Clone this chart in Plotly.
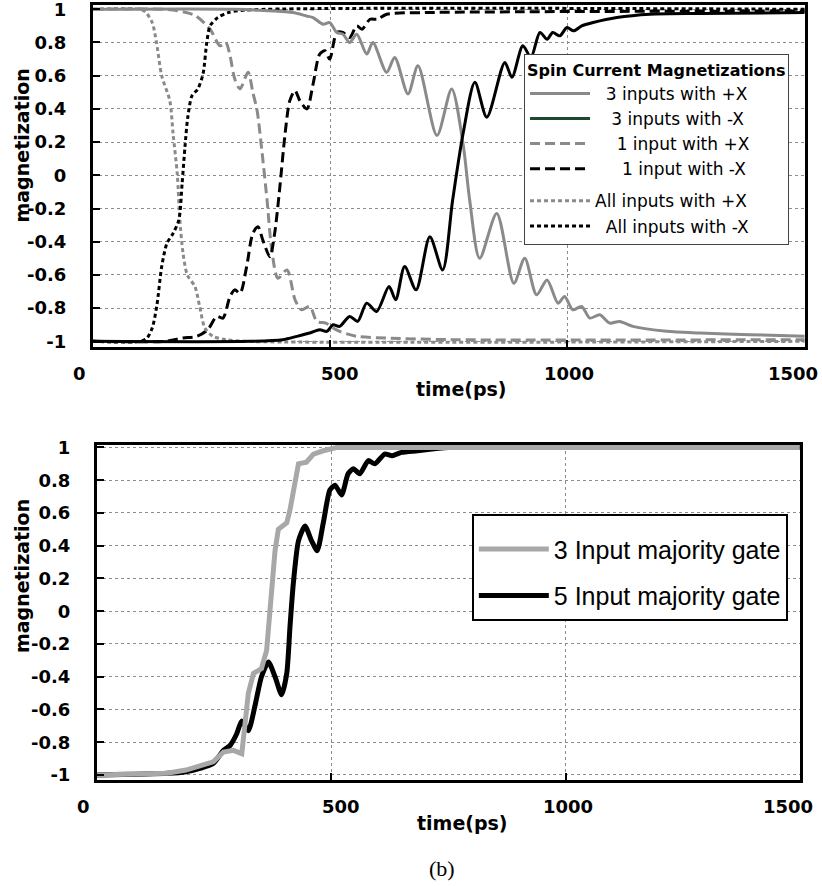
import plotly.graph_objects as go

# ---- top panel: spin current magnetizations ----
t_all_px = [0, 100, 112, 125, 134, 145, 162, 169, 178, 183, 190, 199, 215, 225, 236, 253, 280, 320, 1500]
m_all_px = [1, 1, 0.98, 0.92, 0.8, 0.6, 0.45, 0.25, 0.0, -0.26, -0.47, -0.6, -0.67, -0.79, -0.92, -0.97, -0.99, -1.0, -1.0]

t_all_mx = [0, 100, 114, 125, 135, 145, 156, 169, 181, 188, 194, 200, 209, 221, 232, 240, 247, 263, 285, 320, 1500]
m_all_mx = [-1, -1, -0.98, -0.92, -0.78, -0.55, -0.41, -0.35, -0.27, -0.05, 0.17, 0.35, 0.48, 0.52, 0.61, 0.8, 0.9, 0.95, 0.98, 0.995, 1.0]

t_one_px = [0, 150, 190, 217, 247, 268, 280, 289, 299, 310, 327, 337, 346, 356, 367, 377, 390, 409, 426,
            440, 457, 472, 491, 506, 520, 556, 620, 750, 1500]
m_one_px = [1, 1, 0.985, 0.96, 0.88, 0.78, 0.8, 0.72, 0.58, 0.52, 0.62, 0.5, 0.39, 0.15, -0.15, -0.45, -0.62, -0.57, -0.75,
            -0.81, -0.79, -0.88, -0.89, -0.92, -0.94, -0.97, -0.98, -0.99, -0.99]

t_one_mx = [0, 150, 190, 219, 242, 261, 274, 289, 299, 310, 324, 337, 348, 358, 373, 383, 394, 405, 415, 426, 436,
            451, 464, 478, 489, 499, 514, 527, 541, 556, 567, 584, 600, 619, 700, 900, 1500]
m_one_mx = [-1, -1, -0.98, -0.97, -0.93, -0.85, -0.86, -0.73, -0.69, -0.71, -0.55, -0.35, -0.31, -0.39, -0.49, -0.35,
            -0.07, 0.25, 0.45, 0.51, 0.45, 0.4, 0.55, 0.73, 0.75, 0.7, 0.86, 0.86, 0.83, 0.9, 0.88, 0.94, 0.94, 0.97,
            0.98, 0.985, 0.99]

t_three_px = [0, 300, 380, 421, 450, 464, 485, 499, 514, 527, 541, 556, 577, 590, 619, 636, 664, 685, 725, 756, 780,
              794, 815, 851, 887, 910, 935, 957, 980, 994, 1011, 1030, 1047, 1068, 1089, 1110, 1138, 1209, 1279, 1384, 1500]
m_three_px = [1, 1, 0.99, 0.98, 0.96, 0.95, 0.91, 0.92, 0.86, 0.85, 0.8, 0.85, 0.73, 0.8, 0.62, 0.71, 0.49, 0.66, 0.24,
              0.52, 0.19, -0.15, -0.5, -0.23, -0.65, -0.5, -0.72, -0.63, -0.77, -0.73, -0.81, -0.79, -0.86, -0.84,
              -0.89, -0.88, -0.91, -0.94, -0.95, -0.96, -0.97]

t_three_mx = [0, 330, 400, 430, 457, 478, 493, 506, 520, 541, 558, 577, 598, 624, 638, 657, 681, 710, 737, 758, 780,
              805, 830, 868, 883, 906, 923, 942, 957, 969, 984, 999, 1013, 1030, 1054, 1104, 1174, 1279, 1500]
m_three_mx = [-1, -1, -0.99, -0.97, -0.95, -0.93, -0.94, -0.9, -0.91, -0.85, -0.88, -0.77, -0.82, -0.67, -0.75, -0.55,
              -0.69, -0.37, -0.57, -0.15, 0.25, 0.56, 0.35, 0.68, 0.59, 0.78, 0.71, 0.86, 0.82, 0.86, 0.84, 0.89,
              0.87, 0.9, 0.92, 0.95, 0.97, 0.975, 0.98]

# ---- bottom panel: majority gates ----
t_gate3 = [0, 100, 149, 190, 213, 248, 270, 291, 309, 316, 323, 334, 351, 362, 368, 373, 380, 387, 405, 412, 423,
           430, 447, 462, 483, 511, 600, 1500]
m_gate3 = [-1, -0.995, -0.99, -0.97, -0.95, -0.92, -0.86, -0.85, -0.87, -0.68, -0.5, -0.38, -0.35, -0.24, -0.01,
           0.19, 0.37, 0.5, 0.54, 0.62, 0.82, 0.9, 0.91, 0.96, 0.98, 1.0, 1.0, 1.0]

t_gate5 = [0, 150, 190, 220, 248, 270, 284, 298, 309, 323, 337, 351, 366, 380, 394, 405, 412, 419, 430, 444, 458,
           470, 483, 497, 508, 522, 536, 547, 561, 579, 593, 614, 630, 650, 684, 750, 1500]
m_gate5 = [-1, -0.99, -0.98, -0.96, -0.93, -0.85, -0.82, -0.75, -0.67, -0.73, -0.58, -0.4, -0.31, -0.4, -0.51, -0.38,
           -0.09, 0.17, 0.43, 0.52, 0.43, 0.37, 0.54, 0.74, 0.77, 0.71, 0.84, 0.87, 0.84, 0.92, 0.9, 0.96, 0.95,
           0.97, 0.98, 1.0, 1.0]

x_ticks = [0, 500, 1000, 1500]
x_labels = ["0", "500", "1000", "1500"]
y_ticks = [1, 0.8, 0.6, 0.4, 0.2, 0, -0.2, -0.4, -0.6, -0.8, -1]
y_labels = ["1", "0.8", "0.6", "0.4", "0.2", "0", "-0.2", "-0.4", "-0.6", "-0.8", "-1"]

NB = "\u00a0"
GRAY = "#8a8a8a"
LIGHT = "#a8a8a8"

fig = go.Figure()


def top_line(x, y, name, color, dash, rank, group, show=True):
    fig.add_trace(go.Scatter(
        x=x, y=y, name=name, mode="lines", xaxis="x", yaxis="y",
        line=dict(color=color, width=3, dash=dash, shape="spline", smoothing=0.8),
        legend="legend", legendrank=rank, legendgroup=group, showlegend=show,
    ))


top_line(t_one_px, m_one_px, NB * 4 + "1 input with +X", GRAY, "10px,5px", 3, "a")
top_line(t_one_mx, m_one_mx, NB * 5 + "1 input with -X", "black", "10px,5px", 4, "a")
top_line(t_all_px, m_all_px, "All inputs with +X", GRAY, "4px,3px", 5, "b")
top_line(t_all_mx, m_all_mx, NB * 2 + "All inputs with -X", "black", "4px,3px", 6, "b")
top_line(t_three_px, m_three_px, NB * 2 + "3 inputs with +X", GRAY, "solid", 1, "a")
top_line(t_three_mx, m_three_mx, "3 inputs with -X", "black", "solid", 2, "a", show=False)
# legend swatch for the -X three-input curve is dark green in the original
fig.add_trace(go.Scatter(
    x=[None], y=[None], mode="lines", name=NB * 3 + "3 inputs with -X", xaxis="x", yaxis="y",
    line=dict(color="#1d4a2e", width=3), legend="legend", legendrank=2, legendgroup="a",
))

fig.add_trace(go.Scatter(
    x=t_gate5, y=m_gate5, name="5 Input majority gate", mode="lines", xaxis="x2", yaxis="y2",
    line=dict(color="black", width=5, shape="spline", smoothing=0.6),
    legend="legend2", legendrank=2, legendgroup="g5",
))
fig.add_trace(go.Scatter(
    x=t_gate3, y=m_gate3, name="3 Input majority gate", mode="lines", xaxis="x2", yaxis="y2",
    line=dict(color=LIGHT, width=5),
    legend="legend2", legendrank=1, legendgroup="g3",
))

BOLD = "DejaVu Sans"
tick_font = dict(family=BOLD, size=18, color="black", weight="bold")
axis_common = dict(
    showline=True, linecolor="black", linewidth=3, mirror=True,
    ticks="inside", ticklen=7, tickwidth=2, tickcolor="black",
    showgrid=True, gridcolor="#8c8c8c", gridwidth=1, griddash="dot",
    zeroline=False, tickfont=tick_font, tickmode="array", automargin=False,
    ticklabeloverflow="allow",
)

fig.update_layout(
    width=822, height=886,
    margin=dict(l=0, r=0, t=0, b=0, autoexpand=False),
    paper_bgcolor="white", plot_bgcolor="white",
    xaxis=dict(axis_common, domain=[0.113, 0.979], range=[0, 1500], anchor="y",
               tickvals=x_ticks, showticklabels=False),
    yaxis=dict(axis_common, domain=[0.6084, 0.9944], range=[-1.034, 1.026], anchor="x",
               tickvals=y_ticks, ticktext=y_labels, ticklabelstandoff=20),
    xaxis2=dict(axis_common, domain=[0.118, 0.973], range=[0, 1500], anchor="y2",
                tickvals=x_ticks, showticklabels=False),
    yaxis2=dict(axis_common, domain=[0.1196, 0.4977], range=[-1.031, 1.015], anchor="x2",
                tickvals=y_ticks, ticktext=y_labels, ticklabelstandoff=20),
    legend=dict(
        x=0.6375, y=0.939, xanchor="left", yanchor="top",
        bgcolor="white", bordercolor="#444", borderwidth=1,
        font=dict(family="DejaVu Sans", size=17, color="black"),
        title=dict(text="<b>Spin Current Magnetizations</b>",
                   font=dict(family="DejaVu Sans", size=16, color="black")),
        itemwidth=60, tracegroupgap=7, traceorder="grouped",
    ),
    legend2=dict(
        x=0.574, y=0.42, xanchor="left", yanchor="top",
        bgcolor="white", bordercolor="black", borderwidth=2,
        font=dict(family="Liberation Sans", size=25, color="black"),
        title=dict(text=NB, font=dict(size=8)),
        itemwidth=70, tracegroupgap=11,
    ),
    showlegend=True,
)

# x tick labels: in the original they sit a little off their gridlines
label_nudge = [-13, 10, 2, -12]
for xref, y_lab in (("x", 0.579), ("x2", 0.0892)):
    for val, txt, dx in zip(x_ticks, x_labels, label_nudge):
        fig.add_annotation(text=txt, x=val, y=y_lab, xref=xref, yref="paper",
                           xanchor="center", yanchor="middle", xshift=dx,
                           showarrow=False, font=tick_font)

label_font = dict(family=BOLD, size=19, color="black", weight="bold")
for y_mid in (0.836, 0.350):
    fig.add_annotation(text="magnetization", x=0.027, y=y_mid, xref="paper", yref="paper",
                       xanchor="center", yanchor="middle",
                       textangle=-90, showarrow=False, font=label_font)
fig.add_annotation(text="time(ps)", x=461 / 822, y=0.561, xref="paper", yref="paper",
                   xanchor="center", yanchor="middle", showarrow=False, font=label_font)
fig.add_annotation(text="time(ps)", x=462 / 822, y=0.071, xref="paper", yref="paper",
                   xanchor="center", yanchor="middle", showarrow=False, font=label_font)
fig.add_annotation(text="(b)", x=442 / 822, y=0.0203, xref="paper", yref="paper",
                   xanchor="center", yanchor="middle", showarrow=False,
                   font=dict(family="Liberation Serif", size=22, color="black"))

fig.write_html("out.html", config={"displayModeBar": False},
               post_script="document.body.style.margin='0';")
